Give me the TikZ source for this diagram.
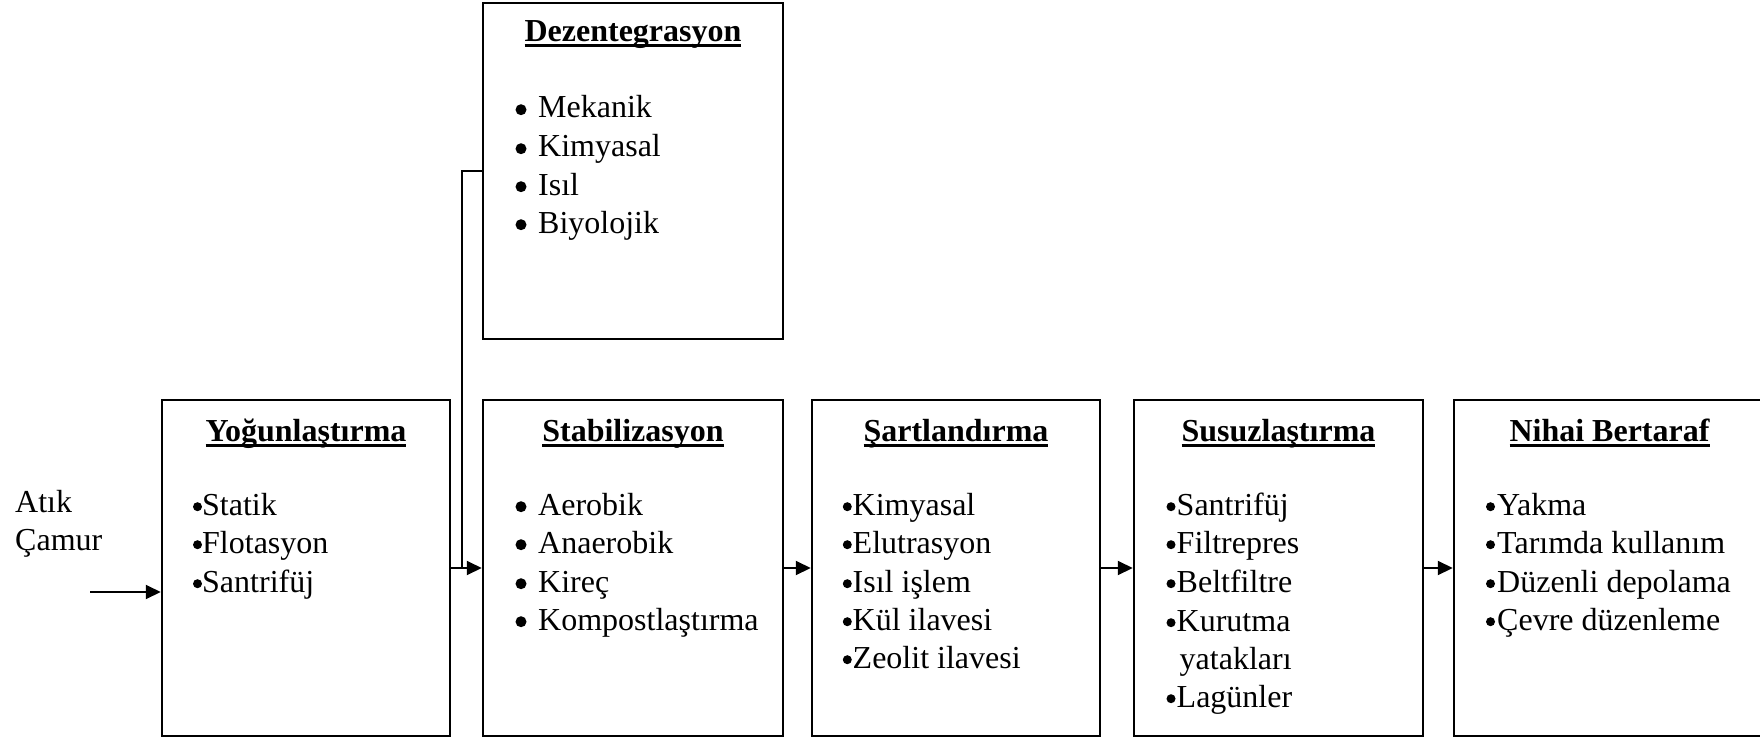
\documentclass[tikz,border=0pt]{standalone}
\usepackage{fontspec}
\setmainfont{Liberation Serif}
\usetikzlibrary{arrows.meta}
\newcommand\ttl[1]{\setbox0\hbox{\bfseries #1}\rlap{\rule[-5.5pt]{\wd0}{3pt}}\box0}
% bullet dot left of a text node: name, offset from text origin to dot centre, radius
\newcommand\bl[3]{\fill (#1.base west) ++(-#2,-8.3) circle (#3);}
\begin{document}
\begin{tikzpicture}[x=1pt,y=-1pt, font=\fontsize{32pt}{38pt}\selectfont,
 box/.style={draw, line width=2.5pt, inner sep=0pt, minimum width=#1, minimum height=336pt},
 txt/.style={anchor=base west, inner sep=0pt},
 ttlnode/.style={anchor=base, inner sep=0pt},
 conn/.style={line width=2pt, -{Triangle[length=15pt,width=14pt]}},
 link/.style={line width=2pt}]
\useasboundingbox (0,0) rectangle (1760,738);

% boxes
\node[box=288pt] (yog) at (306,568) {};
\node[box=300pt] (dez) at (633,171) {};
\node[box=300pt] (stab) at (633,568) {};
\node[box=288pt] (sart) at (956,568) {};
\node[box=289pt] (susuz) at (1278.5,568) {};
\node[box=311pt] (nihai) at (1609.5,568) {};

% titles
\node[ttlnode] (yogT) at (306,441) {\ttl{Yoğunlaştırma}};
\node[ttlnode] (dezT) at (633,42) {\ttl{Dezentegrasyon}};
\node[ttlnode] (stabT) at (633,441) {\ttl{Stabilizasyon}};
\node[ttlnode] (sartT) at (956,441) {\ttl{Şartlandırma}};
\node[ttlnode] (susuzT) at (1278.5,441) {\ttl{Susuzlaştırma}};
\node[ttlnode] (nihaiT) at (1609.5,441) {\ttl{Nihai Bertaraf}};

% input label
\node[txt] (atik) at (15,512) {Atık};
\node[txt] (camur) at (15,550) {Çamur};

% Yoğunlaştırma items
\node[txt] (y1) at (202,515) {Statik};
\node[txt] (y2) at (202,553) {Flotasyon};
\node[txt] (y3) at (202,592) {Santrifüj};
\foreach \n in {y1,y2,y3}{\bl{\n}{4.5pt}{4.5pt}}

% Dezentegrasyon items
\node[txt] (d1) at (538,118) {Mekanik};
\node[txt] (d2) at (538,157) {Kimyasal};
\node[txt] (d3) at (538,195) {Isıl};
\node[txt] (d4) at (538,233) {Biyolojik};
\foreach \n in {d1,d2,d3,d4}{\bl{\n}{17pt}{5.5pt}}

% Stabilizasyon items
\node[txt] (s1) at (538,515) {Aerobik};
\node[txt] (s2) at (538,553) {Anaerobik};
\node[txt] (s3) at (538,592) {Kireç};
\node[txt] (s4) at (538,630) {Kompostlaştırma};
\foreach \n in {s1,s2,s3,s4}{\bl{\n}{17pt}{5.5pt}}

% Şartlandırma items
\node[txt] (t1) at (852.5,515) {Kimyasal};
\node[txt] (t2) at (852.5,553) {Elutrasyon};
\node[txt] (t3) at (852.5,592) {Isıl işlem};
\node[txt] (t4) at (852.5,630) {Kül ilavesi};
\node[txt] (t5) at (852.5,668) {Zeolit ilavesi};
\foreach \n in {t1,t2,t3,t4,t5}{\bl{\n}{5.2pt}{4.5pt}}

% Susuzlaştırma items
\node[txt] (u1) at (1176.5,515) {Santrifüj};
\node[txt] (u2) at (1176.5,553) {Filtrepres};
\node[txt] (u3) at (1176.5,592) {Beltfiltre};
\node[txt] (u4) at (1176.5,631) {Kurutma};
\node[txt] (u5) at (1179.5,669) {yatakları};
\node[txt] (u6) at (1176.5,707) {Lagünler};
\foreach \n in {u1,u2,u3,u4,u6}{\bl{\n}{5.5pt}{4.5pt}}

% Nihai Bertaraf items
\node[txt] (n1) at (1497,515) {Yakma};
\node[txt] (n2) at (1497,553) {Tarımda kullanım};
\node[txt] (n3) at (1497,592) {Düzenli depolama};
\node[txt] (n4) at (1497,630) {Çevre düzenleme};
\foreach \n in {n1,n2,n3,n4}{\bl{\n}{6.5pt}{4.5pt}}

% connectors
\coordinate (in) at (90,592);
\draw[conn] (in) -- (in -| yog.west);
\draw[conn] (yog.east) -- (stab.west);
\draw[conn] (stab.east) -- (sart.west);
\draw[conn] (sart.east) -- (susuz.west);
\draw[conn] (susuz.east) -- (nihai.west);
\coordinate (jn) at (462,568);
\draw[link] (dez.west) -| (jn);
\end{tikzpicture}
\end{document}
